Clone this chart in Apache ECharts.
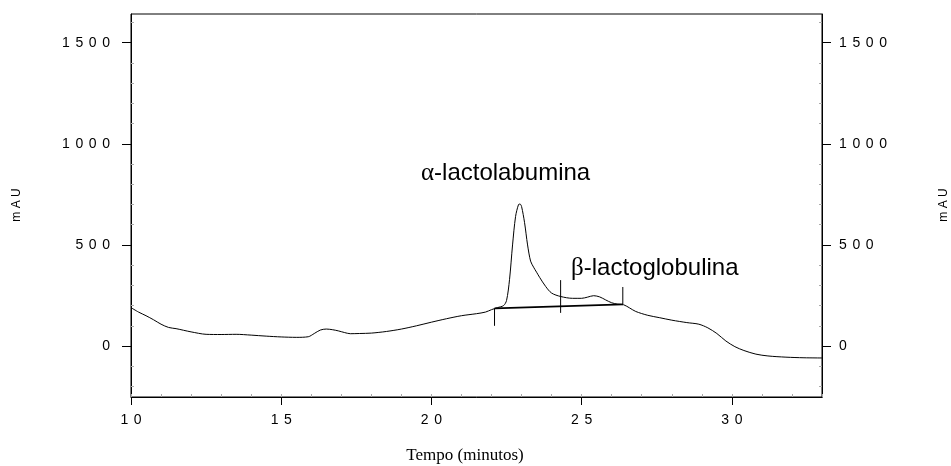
<!DOCTYPE html>
<html>
<head>
<meta charset="utf-8">
<script src="https://cdn.jsdelivr.net/npm/echarts@6/dist/echarts.min.js"></script>
<style>
  html, body { margin: 0; padding: 0; background: #fff; }
  #chart { width: 951px; height: 466px; }
</style>
</head>
<body>
<div id="chart"></div>
<script>
// ---- data ----
const time = [10.0, 10.25, 10.5, 10.75, 11.0, 11.25, 11.5, 11.75, 12.0, 12.5, 13.0, 13.5, 14.0, 14.5, 15.0, 15.5, 15.9, 16.1, 16.3, 16.5, 16.7, 16.9, 17.1, 17.3, 17.6, 18.0, 18.5, 19.0, 19.5, 20.0, 20.5, 21.0, 21.5, 21.8, 22.0, 22.2, 22.4, 22.5, 22.6, 22.7, 22.8, 22.9, 22.95, 23.0, 23.1, 23.2, 23.3, 23.4, 23.5, 23.6, 23.8, 24.0, 24.3, 24.7, 25.0, 25.2, 25.4, 25.6, 25.8, 26.0, 26.2, 26.4, 26.6, 26.8, 27.2, 27.6, 28.0, 28.5, 28.9, 29.2, 29.5, 29.8, 30.1, 30.4, 30.8, 31.2, 31.8, 32.4, 33.0];
const mAU = [190, 168, 150, 130, 108, 92, 86, 78, 70, 58, 57, 58, 54, 49, 45, 43, 46, 62, 79, 84, 81, 75, 67, 61, 62, 64, 72, 84, 100, 118, 135, 150, 160, 168, 180, 190, 200, 225, 330, 500, 640, 700, 702, 690, 610, 500, 420, 390, 365, 340, 295, 262, 245, 236, 236, 242, 249, 243, 228, 214, 207, 204, 188, 171, 152, 140, 128, 116, 108, 90, 62, 25, -3, -22, -40, -49, -55, -58, -59];

// integration baseline and peak delimiters
const baselineX = [22.1, 26.37];
const baselineY = [186, 206];
const markerX = [22.1, 24.3, 26.37];
const markerLow = [100, 164, 206];
const markerHigh = [186, 326, 292];

// axis ticks
const xTicks = [10, 15, 20, 25, 30];
const yTicks = [0, 500, 1000, 1500];
const yMinorTicks = [-200, -100, 100, 200, 300, 400, 600, 700, 800, 900, 1100, 1200, 1300, 1400, 1600];
const xMin = 10, xMax = 33, yMin = -252, yMax = 1642;

const spaced = v => String(v).split('').join('\u2009\u2009');
const labelFont = { color: '#000', fontFamily: 'Liberation Sans, Arial, sans-serif', fontSize: 14 };

const curve = time.map((t, i) => [t, mAU[i]]);
const series = [{
  type: 'line', data: curve, smooth: 0.3, symbol: 'none',
  lineStyle: { color: '#000', width: 1 }, silent: true, animation: false
}, {
  type: 'line', data: baselineX.map((x, i) => [x, baselineY[i]]), symbol: 'none',
  lineStyle: { color: '#000', width: 1.8 }, silent: true, animation: false
}];
markerX.forEach((x, i) => {
  series.push({
    type: 'line', data: [[x, markerLow[i]], [x, markerHigh[i]]], symbol: 'none',
    lineStyle: { color: '#000', width: 1 }, silent: true, animation: false
  });
});

const chart = echarts.init(document.getElementById('chart'), null, { renderer: 'canvas' });
chart.setOption({
  animation: false,
  backgroundColor: '#fff',
  grid: { left: 131, right: 129, top: 14, bottom: 69, show: true, borderColor: '#000', borderWidth: 1, backgroundColor: 'transparent' },
  xAxis: [{
    type: 'value', min: xMin, max: xMax, interval: 5,
    axisLine: { show: true, onZero: false, lineStyle: { color: '#000', width: 1 } },
    axisTick: { show: true, inside: false, length: 8, customValues: xTicks, lineStyle: { color: '#000' } },
    axisLabel: Object.assign({ margin: 16, customValues: xTicks, formatter: spaced }, labelFont),
    splitLine: { show: false }
  }, {
    type: 'value', min: xMin, max: xMax, interval: 1, position: 'bottom',
    axisLine: { show: false, onZero: false },
    axisTick: { show: true, inside: true, length: 3, lineStyle: { color: '#aaa' } },
    axisLabel: { show: false }, splitLine: { show: false }
  }],
  yAxis: [{
    type: 'value', min: yMin, max: yMax, position: 'left',
    axisLine: { show: true, onZero: false, lineStyle: { color: '#000', width: 1 } },
    axisTick: { show: true, inside: false, length: 9, customValues: yTicks, lineStyle: { color: '#000' } },
    axisLabel: Object.assign({ margin: 21, customValues: yTicks, formatter: spaced }, labelFont),
    splitLine: { show: false }
  }, {
    type: 'value', min: yMin, max: yMax, position: 'right',
    axisLine: { show: true, onZero: false, lineStyle: { color: '#000', width: 1 } },
    axisTick: { show: true, inside: false, length: 9, customValues: yTicks, lineStyle: { color: '#000' } },
    axisLabel: Object.assign({ margin: 17, customValues: yTicks, formatter: spaced }, labelFont),
    splitLine: { show: false }
  }, {
    type: 'value', min: yMin, max: yMax, position: 'left',
    axisLine: { show: false, onZero: false },
    axisTick: { show: true, inside: true, length: 3, customValues: yMinorTicks, lineStyle: { color: '#aaa' } },
    axisLabel: { show: false }, splitLine: { show: false }
  }, {
    type: 'value', min: yMin, max: yMax, position: 'right',
    axisLine: { show: false, onZero: false },
    axisTick: { show: true, inside: true, length: 3, customValues: yMinorTicks, lineStyle: { color: '#aaa' } },
    axisLabel: { show: false }, splitLine: { show: false }
  }],
  series: series,
  graphic: [{
    type: 'text', left: 421, top: 161,
    style: {
      text: '{g|α}-lactolabumina', fill: '#000',
      font: '24px "Liberation Sans", Arial, sans-serif',
      rich: { g: { fontFamily: 'Liberation Serif, serif', fontSize: 25 } }
    }
  }, {
    type: 'text', left: 571, top: 256,
    style: {
      text: '{g|β}-lactoglobulina', fill: '#000',
      font: '24px "Liberation Sans", Arial, sans-serif',
      rich: { g: { fontFamily: 'Liberation Serif, serif', fontSize: 25 } }
    }
  }, {
    type: 'text', x: 17, y: 205, rotation: Math.PI / 2,
    style: { text: 'm A U', fill: '#000', font: '12px "Liberation Sans", Arial, sans-serif', align: 'center', verticalAlign: 'middle' }
  }, {
    type: 'text', x: 944, y: 205, rotation: Math.PI / 2,
    style: { text: 'm A U', fill: '#000', font: '12px "Liberation Sans", Arial, sans-serif', align: 'center', verticalAlign: 'middle' }
  }, {
    type: 'text', x: 465, y: 456,
    style: { text: 'Tempo (minutos)', fill: '#000', font: '17px "Liberation Serif", "Times New Roman", serif', align: 'center', verticalAlign: 'middle' }
  }]
});
</script>
</body>
</html>
